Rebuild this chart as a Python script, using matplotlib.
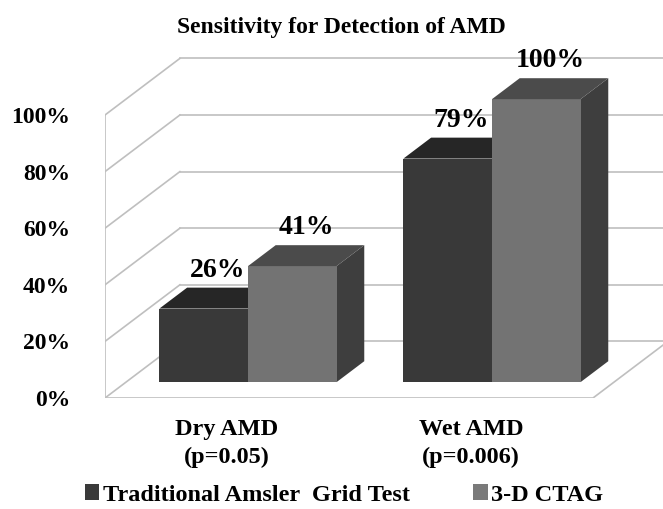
import numpy as np
import matplotlib
matplotlib.use("Agg")
import matplotlib.pyplot as plt
from matplotlib.patches import Polygon, Patch

# data
categories = ["Dry AMD\n(p=0.05)", "Wet AMD\n(p=0.006)"]
series_names = ["Traditional Amsler  Grid Test", "3-D CTAG"]
amsler = [26, 79]
ctag = [41, 100]
yticks = [0, 20, 40, 60, 80, 100]

plt.rcParams["font.family"] = ["Liberation Serif", "DejaVu Serif"]
plt.rcParams["font.weight"] = "bold"

# 3-D look: depth offset of the whole plot box and of the bars
DX, DY = 0.307, 20.0
Z0, Z1 = 0.28, 0.65
W = 0.363
grid_col = "#bfbfbf"

front_cols = ["#393939", "#737373"]
top_cols = ["#262626", "#4b4b4b"]
side_cols = ["#2b2b2b", "#3e3e3e"]

fig = plt.figure(figsize=(6.63, 5.09), dpi=100)
ax = fig.add_axes([105 / 663, 111 / 509, 558 / 663, 358 / 509])
ax.set_xlim(-0.5, -0.5 + 558 / 244)
ax.set_ylim(0, 358 / 2.83)

# back wall gridlines and left wall
for v in yticks:
    ax.plot([-0.5 + DX, 3], [v + DY, v + DY], color=grid_col, lw=1.2, zorder=1)
    ax.plot([-0.5, -0.5 + DX], [v, v + DY], color=grid_col, lw=1.2, zorder=1)
ax.plot([-0.5, -0.5], [0, 100], color=grid_col, lw=1.2, zorder=1)
# floor
ax.plot([-0.5, 1.5, 1.5 + DX], [0, 0, DY], color=grid_col, lw=1.2, zorder=1)


def draw_bar(x0, h, k):
    x0 = x0 + Z0 * DX
    y0 = Z0 * DY
    d = (Z1 - Z0)
    ddx, ddy = d * DX, d * DY
    front = [(x0, y0), (x0 + W, y0), (x0 + W, y0 + h), (x0, y0 + h)]
    top = [(x0, y0 + h), (x0 + W, y0 + h), (x0 + W + ddx, y0 + h + ddy), (x0 + ddx, y0 + h + ddy)]
    side = [(x0 + W, y0), (x0 + W + ddx, y0 + ddy), (x0 + W + ddx, y0 + h + ddy), (x0 + W, y0 + h)]
    for pts, c in [(side, side_cols[k]), (front, front_cols[k]), (top, top_cols[k])]:
        ax.add_patch(Polygon(pts, closed=True, facecolor=c, edgecolor="none", zorder=3))


for i in range(len(categories)):
    vals = [amsler[i], ctag[i]]
    for k, h in enumerate(vals):
        x0 = i - W + k * W
        draw_bar(x0, h, k)
        xl = x0 + W / 2 + (Z0 + Z1) / 2 * DX
        ax.text(xl, h + Z1 * DY + 3.9, f"{h}%", ha="center", va="baseline",
                fontsize=20, fontweight="bold", zorder=5)

ax.set_yticks(yticks)
ax.set_yticklabels([f"{v}%" for v in yticks])
ax.set_xticks(range(len(categories)))
ax.set_xticklabels(categories, linespacing=1.45)
ax.tick_params(axis="y", length=0, pad=25, labelsize=17)
ax.tick_params(axis="x", length=0, pad=15, labelsize=17.5)
for s in ax.spines.values():
    s.set_visible(False)

fig.text(341 / 663, 1 - 33 / 509, "Sensitivity for Detection of AMD", ha="center",
         va="baseline", fontsize=17, fontweight="bold")

handles = [Patch(facecolor="#3a3a3a"), Patch(facecolor="#7a7a7a")]
fig.legend(handles, series_names, loc="center", bbox_to_anchor=(344 / 663, 14 / 509),
           ncol=2, frameon=False, fontsize=17.5, handlelength=0.6, handleheight=0.6,
           handletextpad=0.15, columnspacing=2.6, borderpad=0)

fig.savefig("out.png", dpi=100)
